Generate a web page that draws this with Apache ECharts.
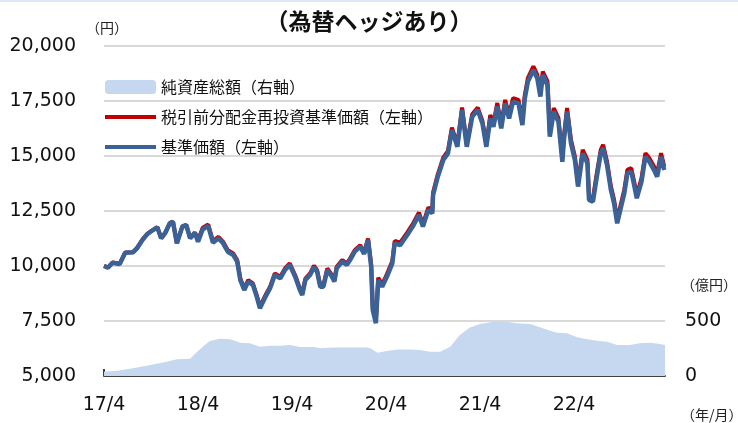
<!DOCTYPE html>
<html>
<head>
<meta charset="utf-8">
<title>為替ヘッジあり</title>
<script src="https://cdn.jsdelivr.net/npm/echarts@6/dist/echarts.min.js"></script>
<style>
    html, body { margin: 0; padding: 0; background: #fff; }
    #mymain { width: 738px; height: 423px; }
</style>
</head>
<body>
<div id="mymain"></div>
<script type="text/javascript">
    // x軸: 2017/4 からの経過月数
    var navMonths = [
        0, 0.5, 1.1, 2.0, 2.7, 3.7, 4.2, 4.9, 5.5, 6.1,
        6.8, 7.3, 7.8, 8.4, 8.8, 9.3, 10.0, 10.5, 11.0, 11.6,
        12.0, 12.6, 13.3, 13.9, 14.6, 15.2, 15.8, 16.5, 17.0, 17.4,
        17.9, 18.4, 19.0, 19.5, 19.9, 20.6, 21.2, 21.8, 22.5, 23.1,
        23.7, 24.4, 25.0, 25.3, 25.7, 26.3, 26.8, 27.2, 27.6, 28.0,
        28.5, 29.1, 29.4, 29.7, 30.4, 31.0, 31.4, 32.0, 32.7, 33.2,
        33.7, 34.1, 34.3, 34.7, 35.0, 35.5, 36.1, 36.8, 37.1, 37.8,
        38.7, 39.4, 40.2, 40.7, 41.4, 41.9, 42.0, 42.6, 43.3, 43.9,
        44.4, 45.1, 45.7, 46.3, 47.0, 47.7, 48.3, 48.8, 49.3, 49.7,
        50.2, 50.7, 51.2, 51.7, 52.2, 52.9, 53.4, 53.7, 54.1, 54.8,
        55.3, 55.7, 56.0, 56.6, 56.9, 57.4, 58.0, 58.5, 58.7, 59.1,
        59.6, 60.1, 60.5, 61.1, 61.7, 61.9, 62.4, 62.9, 63.4, 63.7,
        64.2, 64.7, 65.1, 65.5, 66.0, 66.4, 66.8, 67.3, 67.7, 68.0,
        68.6, 69.1, 69.6, 70.2, 70.6, 71.1, 71.5
    ];
    // 基準価額（左軸）
    var navValues = [
        10000, 9920, 10150, 10090, 10600, 10620, 10800, 11180, 11440, 11600,
        11760, 11260, 11490, 11940, 12010, 11030, 11790, 11860, 11260, 11510,
        11100, 11670, 11820, 11060, 11260, 11030, 10650, 10500, 10200, 9360,
        8910, 9290, 9140, 8600, 8080, 8600, 8990, 9590, 9440, 9820,
        10050, 9510, 8910, 8680, 9360, 9590, 9940, 9740, 9060, 9060,
        9820, 9510, 9290, 9900, 10200, 10050, 10270, 10650, 10880, 10550,
        11180, 9970, 8000, 7400, 9360, 9060, 9510, 10120, 11030, 10950,
        11410, 11790, 12320, 11790, 12550, 12390, 13230, 14060, 14820, 15120,
        16180, 15420, 17090, 15420, 16790, 17090, 16480, 15420, 16700, 16330,
        17250, 16260, 17390, 16710, 17470, 17390, 16410, 17600, 18380, 18910,
        18530, 17700, 18680, 18230, 15880, 17020, 16560, 14740, 15730, 17020,
        15580, 14820, 13610, 15120, 14670, 13000, 12920, 14060, 15120, 15350,
        14590, 13450, 12850, 11940, 12700, 13300, 14210, 14290, 13610, 13080,
        13830, 14970, 14740, 14360, 14060, 14970, 14360
    ];
    // 税引前分配金再投資基準価額（左軸）
    var reinvValues = [
        10010, 9930, 10160, 10100, 10610, 10630, 10810, 11190, 11450, 11610,
        11770, 11270, 11500, 11950, 12020, 11040, 11800, 11870, 11270, 11520,
        11170, 11740, 11890, 11130, 11330, 11100, 10720, 10570, 10270, 9430,
        8980, 9360, 9210, 8670, 8150, 8670, 9060, 9660, 9510, 9890,
        10120, 9580, 8980, 8750, 9430, 9660, 10010, 9810, 9130, 9130,
        9890, 9580, 9360, 9970, 10270, 10120, 10340, 10720, 10950, 10620,
        11250, 10080, 8110, 7510, 9470, 9170, 9620, 10230, 11140, 11060,
        11520, 11900, 12430, 11900, 12660, 12500, 13340, 14170, 14930, 15230,
        16290, 15530, 17200, 15530, 16900, 17200, 16590, 15530, 16860, 16490,
        17410, 16420, 17550, 16870, 17630, 17550, 16570, 17760, 18540, 19070,
        18690, 17860, 18840, 18390, 16040, 17180, 16720, 14900, 15890, 17180,
        15740, 14980, 13770, 15280, 14830, 13160, 13080, 14220, 15280, 15510,
        14750, 13610, 13010, 12100, 12860, 13460, 14370, 14450, 13770, 13240,
        13990, 15130, 14900, 14520, 14220, 15130, 14520
    ];
    // 純資産総額（右軸, 億円）
    var assetMonths = [
        0, 1.7, 3.7, 5.9, 8.0, 9.3, 11.0, 11.9, 12.6, 13.5,
        14.8, 16.1, 17.4, 18.6, 19.9, 21.2, 22.5, 23.7, 25.0, 26.7,
        27.6, 29.2, 31.4, 33.6, 34.0, 34.9, 36.1, 37.4, 39.1, 40.3,
        41.6, 42.9, 44.2, 45.4, 46.7, 48.0, 49.7, 51.4, 52.7, 54.4,
        56.0, 57.8, 59.1, 60.4, 61.7, 62.9, 64.2, 65.5, 67.1, 68.4,
        69.7, 71.0, 71.6
    ];
    var assetValues = [
        39, 48, 70, 100, 130, 152, 157, 221, 266, 318,
        339, 333, 303, 297, 266, 275, 275, 282, 264, 264,
        252, 258, 258, 258, 252, 212, 227, 242, 242, 236,
        221, 221, 266, 373, 442, 473, 494, 494, 479, 473,
        433, 394, 388, 352, 333, 321, 312, 282, 282, 297,
        303, 291, 282
    ];
    var yearTicks = [0, 12, 24, 36, 48, 60];
    var yearLabels = ['17/4', '18/4', '19/4', '20/4', '21/4', '22/4'];

    function zip(xs, ys) {
        var out = [];
        for (var i = 0; i < xs.length; i++) {
            out.push([xs[i], ys[i]]);
        }
        return out;
    }

    var numFont = 'DejaVu Sans';
    var cjkFont = '"Noto Sans CJK JP", sans-serif';
    // 凡例の線アイコン（細い横棒）
    var barIcon = 'path://M0,0 L51,0 L51,4 L0,4 Z';

    var myChart = echarts.init(document.getElementById('mymain'), null, { renderer: 'canvas' });

    var option = {
        animation: false,
        backgroundColor: '#fff',
        title: {
            text: '（為替ヘッジあり）',
            left: 'center',
            top: 5,
            textStyle: { fontFamily: cjkFont, fontSize: 23, fontWeight: 'bold', color: '#111' }
        },
        graphic: [
            { type: 'rect', left: 0, top: 0, shape: { width: 738, height: 2 }, style: { fill: '#dbe8f7' } },
            { type: 'text', left: 86, top: 21, style: { text: '（円）', font: '14px ' + cjkFont, fill: '#222' } },
            { type: 'text', left: 681, top: 278, style: { text: '（億円）', font: '14px ' + cjkFont, fill: '#222' } },
            { type: 'text', left: 681, top: 408, style: { text: '（年/月）', font: '14px ' + cjkFont, fill: '#222' } }
        ],
        legend: {
            orient: 'vertical',
            left: 105,
            top: 79,
            padding: 0,
            itemWidth: 51,
            itemHeight: 14,
            itemGap: 14,
            textStyle: { fontFamily: cjkFont, fontSize: 16, color: '#111' },
            data: [
                { name: '純資産総額（右軸）', icon: 'roundRect' },
                { name: '税引前分配金再投資基準価額（左軸）', icon: barIcon },
                { name: '基準価額（左軸）', icon: barIcon }
            ]
        },
        grid: { left: 104, right: 73, top: 46, bottom: 47 },
        xAxis: {
            type: 'value',
            min: 0,
            max: 71.6,
            splitLine: { show: false },
            axisLine: { lineStyle: { color: '#404040', width: 2 } },
            axisTick: { inside: true, length: 7, customValues: yearTicks, lineStyle: { color: '#404040', width: 2 } },
            axisLabel: {
                customValues: yearTicks,
                margin: 20,
                fontFamily: numFont,
                fontSize: 19,
                color: '#111',
                formatter: function (v) {
                    var i = yearTicks.indexOf(v);
                    return i >= 0 ? yearLabels[i] : '';
                }
            }
        },
        yAxis: [{
            type: 'value',
            min: 5000,
            max: 20000,
            interval: 2500,
            axisLine: { show: false },
            axisTick: { show: false },
            splitLine: { lineStyle: { color: '#d9d9d9', width: 2 } },
            axisLabel: {
                margin: 28,
                fontFamily: numFont,
                fontSize: 19,
                color: '#111',
                formatter: function (v) {
                    return v.toString().replace(/\B(?=(\d{3})+(?!\d))/g, ',');
                }
            }
        }, {
            type: 'value',
            min: 0,
            max: 3000,
            interval: 500,
            axisLine: { show: false },
            axisTick: { show: false },
            splitLine: { show: false },
            axisLabel: {
                margin: 20,
                fontFamily: numFont,
                fontSize: 19,
                color: '#111',
                formatter: function (v) {
                    return v <= 500 ? String(v) : '';
                }
            }
        }],
        series: [{
            name: '純資産総額（右軸）',
            type: 'line',
            yAxisIndex: 1,
            symbol: 'none',
            lineStyle: { width: 0 },
            itemStyle: { color: '#c6d8ef' },
            areaStyle: { color: '#c6d8ef', opacity: 1 },
            data: zip(assetMonths, assetValues)
        }, {
            name: '税引前分配金再投資基準価額（左軸）',
            type: 'line',
            symbol: 'none',
            lineStyle: { color: '#c00000', width: 4 },
            itemStyle: { color: '#c00000' },
            data: zip(navMonths, reinvValues)
        }, {
            name: '基準価額（左軸）',
            type: 'line',
            symbol: 'none',
            lineStyle: { color: '#3a6296', width: 4.5 },
            itemStyle: { color: '#3a6296' },
            data: zip(navMonths, navValues)
        }]
    };

    myChart.setOption(option);
</script>
</body>
</html>
